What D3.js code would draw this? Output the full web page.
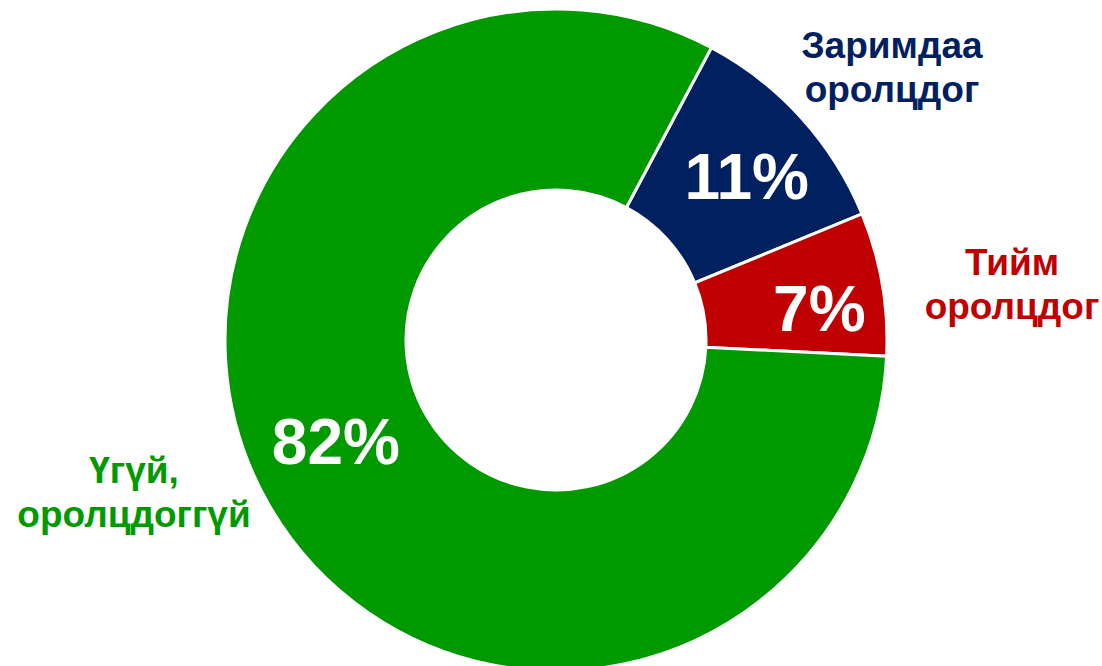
<html>
<script src="https://d3js.org/d3.v7.min.js"></script>
<style>
    body { margin: 0; background: #fff; }
    svg text { font-family: "Liberation Sans", Arial, sans-serif; font-weight: bold; }
</style>
<body>
<script>
    // slices in drawing order (clockwise, starting near 1 o'clock)
    let categories = ["Заримдаа оролцдог", "Тийм оролцдог", "Үгүй, оролцдоггүй"];
    let labelLines = [["Заримдаа", "оролцдог"], ["Тийм", "оролцдог"], ["Үгүй,", "оролцдоггүй"]];
    let values = [11, 7, 82];
    let colors = ["#002060", "#C00000", "#009900"];

    let width = 1102, height = 666;
    let cx = 556, cy = 340;
    let outerR = 331, innerR = 150;
    let startDeg = 28;

    let svg = d3.select("body").append("svg")
        .attr("width", width)
        .attr("height", height);

    let g = svg.append("g").attr("transform", `translate(${cx},${cy})`);

    let pie = d3.pie()
        .sort(null)
        .value(d => d)
        .startAngle(startDeg * Math.PI / 180)
        .endAngle((startDeg + 360) * Math.PI / 180);

    let arc = d3.arc().innerRadius(innerR).outerRadius(outerR);
    let arcs = pie(values);

    g.selectAll("path.slice")
        .data(arcs)
        .enter().append("path")
        .attr("class", "slice")
        .attr("d", arc)
        .attr("fill", (d, i) => colors[i])
        .attr("stroke", "#fff")
        .attr("stroke-width", 3)
        .attr("stroke-linejoin", "miter");

    // percentage labels inside the ring
    let labelArc = d3.arc().innerRadius(252).outerRadius(252);
    let nudge = [[4, 5], [15, 11], [-1, -24]];
    g.selectAll("text.pct")
        .data(arcs)
        .enter().append("text")
        .attr("class", "pct")
        .attr("transform", (d, i) => {
            let c = labelArc.centroid(d);
            return `translate(${c[0] + nudge[i][0]},${c[1] + nudge[i][1]})`;
        })
        .attr("text-anchor", "middle")
        .attr("dy", "0.36em")
        .attr("fill", "#fff")
        .attr("font-size", 64)
        .text(d => d.value + "%");

    // category labels outside
    let catPos = [[892, 58], [1012, 275], [134, 483]];
    labelLines.forEach((lines, i) => {
        let t = svg.append("text")
            .attr("x", catPos[i][0])
            .attr("y", catPos[i][1])
            .attr("text-anchor", "middle")
            .attr("fill", colors[i])
            .attr("font-size", 37);
        lines.forEach((ln, j) => {
            t.append("tspan")
                .attr("x", catPos[i][0])
                .attr("dy", j === 0 ? 0 : 44)
                .text(ln);
        });
    });
</script>
</body>
</html>
